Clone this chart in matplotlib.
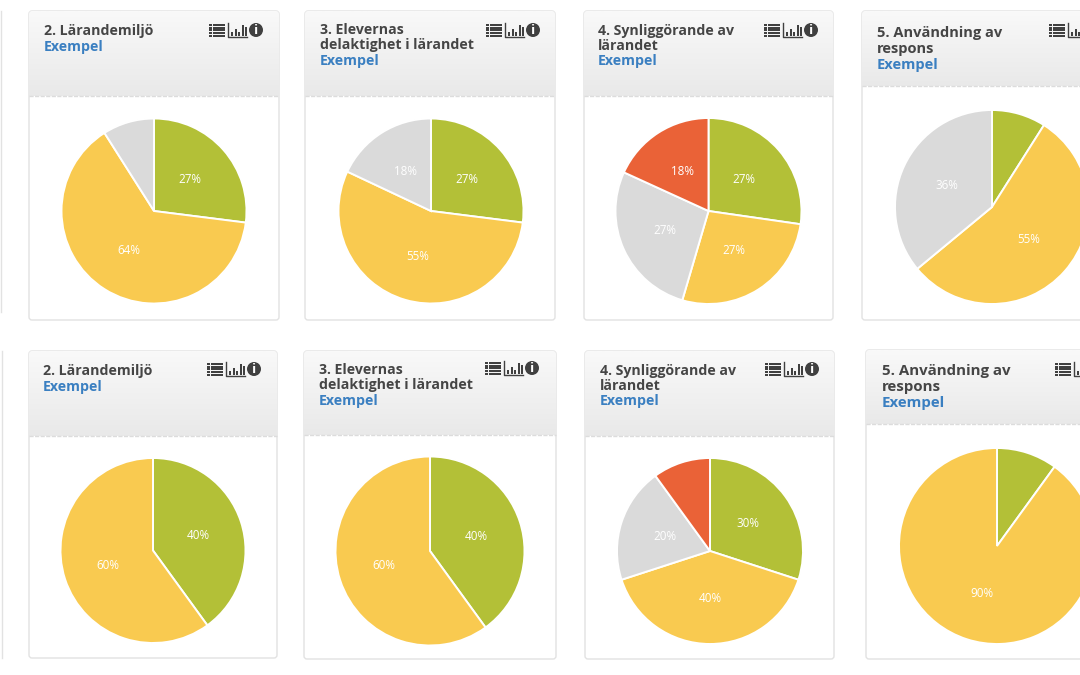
import numpy as np
import matplotlib
matplotlib.use("Agg")
import matplotlib.pyplot as plt
from matplotlib.patches import FancyBboxPatch, Rectangle, Circle

W, H = 1080, 675
plt.rcParams['font.family'] = ['Open Sans', 'DejaVu Sans']

GREEN, YELLOW, GRAY, RED = '#b3c037', '#f9ca50', '#dadada', '#ea6237'

titles = ["2. Lärandemiljö", "3. Elevernas\ndelaktighet i lärandet",
          "4. Synliggörande av\nlärandet", "5. Användning av\nrespons"]
subtitle = "Exempel"

top_values = [[27, 64, 9], [27, 55, 18], [27, 27, 27, 18], [9, 55, 36]]
top_colors = [[GREEN, YELLOW, GRAY], [GREEN, YELLOW, GRAY],
              [GREEN, YELLOW, GRAY, RED], [GREEN, YELLOW, GRAY]]
bottom_values = [[40, 60], [40, 60], [30, 40, 20, 10], [10, 90]]
bottom_colors = [[GREEN, YELLOW], [GREEN, YELLOW],
                 [GREEN, YELLOW, GRAY, RED], [GREEN, YELLOW]]

# layout: x0, x1, y0, y1, header bottom, pie cx, cy, r, text x, line ys, icon x, icon y, font size
layout = [
    (29, 279, 11, 320, 96, 154, 211, 92.5, 44, (31.5, 46.5), 209, 30, 10.2),
    (305, 555, 11, 320, 96, 431, 211, 92.5, 320, (30.5, 45.5, 61.5), 486, 30, 10.2),
    (584, 833, 11, 320, 96, 708.5, 211, 93, 598, (30.5, 45.5, 61.5), 764, 30, 10.2),
    (862, 1100, 11, 320, 86, 992, 207, 97, 877, (33.5, 49.5, 65.5), 1049, 30, 10.5),
    (29, 277, 351, 658, 436, 153, 550.5, 92.5, 43, (370.5, 386.5), 207, 369, 10.2),
    (304, 556, 351, 659, 435, 430, 551, 94.5, 319, (369.5, 384.5, 400.5), 485, 368, 10.2),
    (585, 834, 351, 659, 436, 710, 551, 93, 600, (370.5, 385.5, 401.5), 765, 369, 10.2),
    (866, 1100, 350, 659, 424, 997, 546, 98, 882, (370.5, 386.5, 403.5), 1055, 369, 10.8),
]

fig = plt.figure(figsize=(W / 100, H / 100), dpi=100, facecolor='white')
bg = fig.add_axes([0, 0, 1, 1])
bg.set_xlim(0, W)
bg.set_ylim(H, 0)
bg.axis('off')

gradient = np.linspace(0, 1, 64).reshape(-1, 1)
cmap = matplotlib.colors.LinearSegmentedColormap.from_list('hdr', ['#f9f9f9', '#e9e9e9'])


def draw_icons(x, y):
    ink = '#404040'
    for i in range(5):
        yy = y - 6.2 + i * 2.7
        bg.add_patch(Rectangle((x, yy), 2.5, 2, color=ink, lw=0, zorder=5))
        bg.add_patch(Rectangle((x + 3.5, yy), 12.5, 2, color=ink, lw=0, zorder=5))
    cx = x + 19
    if cx < W:
        bg.plot([cx, cx, cx + 19], [y - 7, y + 7, y + 7], color=ink, lw=1.0, zorder=5)
        for off, h in zip((3, 6.5, 10, 13.5, 16.5), (4, 7, 4, 11, 9)):
            bg.add_patch(Rectangle((cx + off, y + 5.5 - h), 2.2, h, color=ink, lw=0, zorder=5))
    if x + 47 < W:
        bg.add_patch(Circle((x + 47, y), 7, color=ink, lw=0, zorder=5))
        bg.text(x + 47, y + 0.2, 'i', color='white', fontsize=9.5, fontweight='bold',
                ha='center', va='center', zorder=6)


def draw_card(box, title, values, colors):
    x0, x1, y0, y1, hb, cx, cy, r, tx, lys, ix, iy, fs = box
    card = FancyBboxPatch((x0, y0), x1 - x0, y1 - y0, boxstyle='round,pad=0,rounding_size=3',
                          fc='white', ec='#e2e2e2', lw=1.0, zorder=1)
    bg.add_patch(card)
    im = bg.imshow(gradient, extent=(x0, x1, hb, y0), cmap=cmap, aspect='auto', zorder=2)
    im.set_clip_path(card)
    bg.plot([x0, x1], [hb, hb], color='#dcdcdc', lw=1, ls=(0, (3, 1)), zorder=3)
    lines = title.split('\n')
    for ly, line in zip(lys, lines):
        bg.text(tx, ly, line, color='#454545', fontsize=fs, fontweight='bold',
                ha='left', va='center', zorder=5)
    bg.text(tx, lys[len(lines)], subtitle, color='#3a7fc1', fontsize=fs, fontweight='bold',
            ha='left', va='center', zorder=5)
    draw_icons(ix, iy)

    ax = fig.add_axes([(cx - r) / W, 1 - (cy + r) / H, 2 * r / W, 2 * r / H])
    ax.patch.set_alpha(0)
    shown = iter(values)

    def pct(_):
        v = next(shown)
        return f'{v}%' if v > 10 else ''

    ax.pie(values, colors=colors, startangle=90, counterclock=False, radius=1,
           autopct=pct, pctdistance=0.51,
           wedgeprops=dict(edgecolor='white', linewidth=1.4),
           textprops=dict(color='#ffffff', fontsize=8.4))
    ax.set_xlim(-1, 1)
    ax.set_ylim(-1, 1)
    for patch in ax.patches:
        patch.set_clip_on(False)


all_values = top_values + bottom_values
all_colors = top_colors + bottom_colors
for k, box in enumerate(layout):
    draw_card(box, titles[k % 4], all_values[k], all_colors[k])

# edges of the cropped first cards
bg.plot([0.5, 0.5], [11, 312], color='#e2e2e2', lw=1.0, zorder=1)
bg.plot([1.5, 1.5], [351, 658], color='#e2e2e2', lw=1.0, zorder=1)

bg.set_xlim(0, W)
bg.set_ylim(H, 0)
fig.savefig('out.png', dpi=100, facecolor='white')
